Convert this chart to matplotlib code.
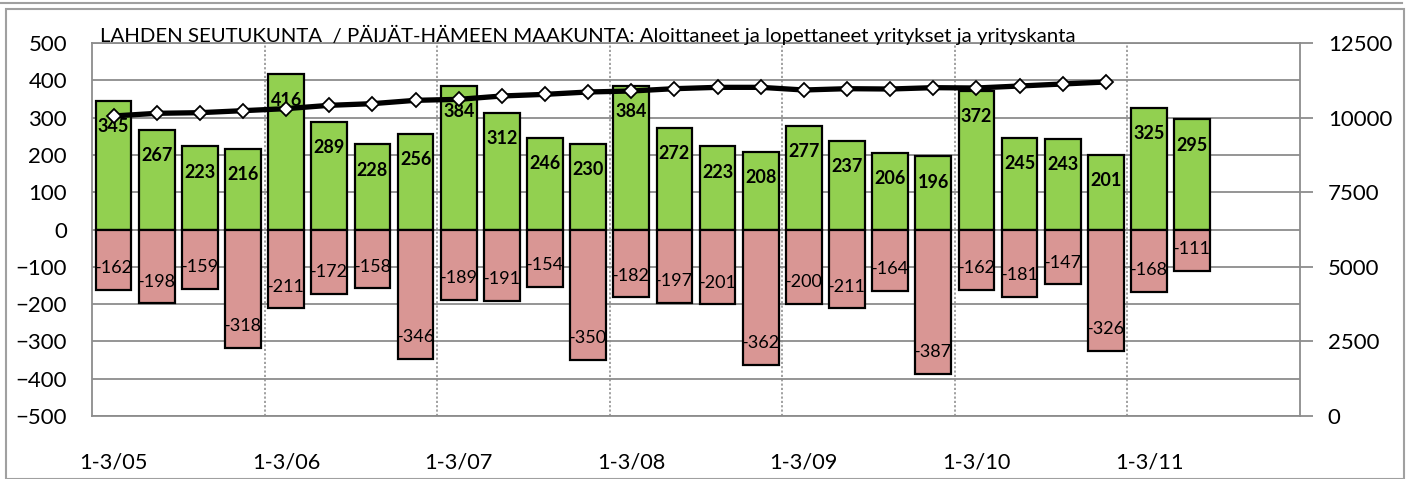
import matplotlib
matplotlib.use('Agg')
import matplotlib.pyplot as plt
from matplotlib.patches import Rectangle
from matplotlib.lines import Line2D
import numpy as np

plt.rcParams['font.family'] = ['Lato', 'DejaVu Sans']

# aloittaneet (starts), lopettaneet (closures), yrityskanta (stock)
starts = [345, 267, 223, 216, 416, 289, 228, 256, 384, 312, 246, 230, 384,
          272, 223, 208, 277, 237, 206, 196, 372, 245, 243, 201, 325, 295]
closures = [-162, -198, -159, -318, -211, -172, -158, -346, -189, -191, -154,
            -350, -182, -197, -201, -362, -200, -211, -164, -387, -162, -181,
            -147, -326, -168, -111]
stock = [10054, 10144, 10165, 10232, 10300, 10411, 10467, 10579, 10612, 10724,
         10779, 10858, 10891, 10969, 11014, 11014, 10925, 10969, 10958, 11003,
         10992, 11059, 11126, 11193]
year_labels = ['1-3/05', '1-3/06', '1-3/07', '1-3/08', '1-3/09', '1-3/10', '1-3/11']
n_cat = 28

title = 'LAHDEN SEUTUKUNTA  / PÄIJÄT-HÄMEEN MAAKUNTA: Aloittaneet ja lopettaneet yritykset ja yrityskanta'

W, H = 1406, 479
fig = plt.figure(figsize=(W/100, H/100), dpi=100)
fig.subplots_adjust(left=92/W, right=1300/W, top=1-43/H, bottom=1-416/H)
ax = fig.add_subplot(111)

grey = '#8c8c8c'
x = np.arange(len(starts))
ax.bar(x, starts, width=0.83, color='#92D050', edgecolor='black', linewidth=1.6, zorder=3)
ax.bar(x, closures, width=0.83, color='#D99694', edgecolor='black', linewidth=1.6, zorder=3)

for xi, v in zip(x, starts):
    ax.annotate(str(v), (xi, v), xytext=(0, -18.5), textcoords='offset points',
                ha='center', va='center', fontsize=13, fontweight='bold', zorder=4)
for xi, v in zip(x, closures):
    ax.annotate(str(v), (xi, v), xytext=(0, 15.6), textcoords='offset points',
                ha='center', va='center', fontsize=13, zorder=4)

ax.set_xlim(-0.5, n_cat - 0.5)
ax.set_ylim(-500, 500)
ax.set_yticks(np.arange(-500, 501, 100))
ax.yaxis.grid(True, color=grey, linewidth=1.3, zorder=0)
ax.set_xticks(np.arange(0, n_cat, 4)[:len(year_labels)])
ax.set_xticklabels(year_labels)
ax.set_xticks(np.arange(3.5, 24, 4), minor=True)
ax.xaxis.grid(True, which='minor', color='#9a9a9a', linestyle=(0, (1.2, 1.2)), linewidth=1.3)
ax.tick_params(axis='x', which='both', length=0, pad=26, labelsize=15.7)
ax.tick_params(axis='y', length=0, pad=18, labelsize=16)
ax.set_axisbelow(True)
for s in ax.spines.values():
    s.set_color(grey)
    s.set_linewidth(1.3)

ax2 = ax.twinx()
ax2.plot(np.arange(len(stock)), stock, color='black', linewidth=3.8, marker='D',
         markersize=7.5, markerfacecolor='white', markeredgecolor='black',
         markeredgewidth=1.3, zorder=5)
ax2.set_ylim(0, 12500)
ax2.set_yticks(np.arange(0, 12501, 2500))
ax2.tick_params(axis='y', length=9, color=grey, width=1.3, pad=11, labelsize=16)
for s in ax2.spines.values():
    s.set_visible(False)

fig.text(100/W, 1-42/H, title, fontsize=14.7, va='baseline', ha='left')

fig.add_artist(Rectangle((6/W, 0), 1398/W, 1-9/H, transform=fig.transFigure,
                         fill=False, edgecolor='#a0a0a0', linewidth=1.5))
fig.add_artist(Line2D([0, 1402/W], [1-3/H, 1-3/H], transform=fig.transFigure,
                      color='#a0a0a0', linewidth=1.5))

fig.savefig('out.png', dpi=100)
